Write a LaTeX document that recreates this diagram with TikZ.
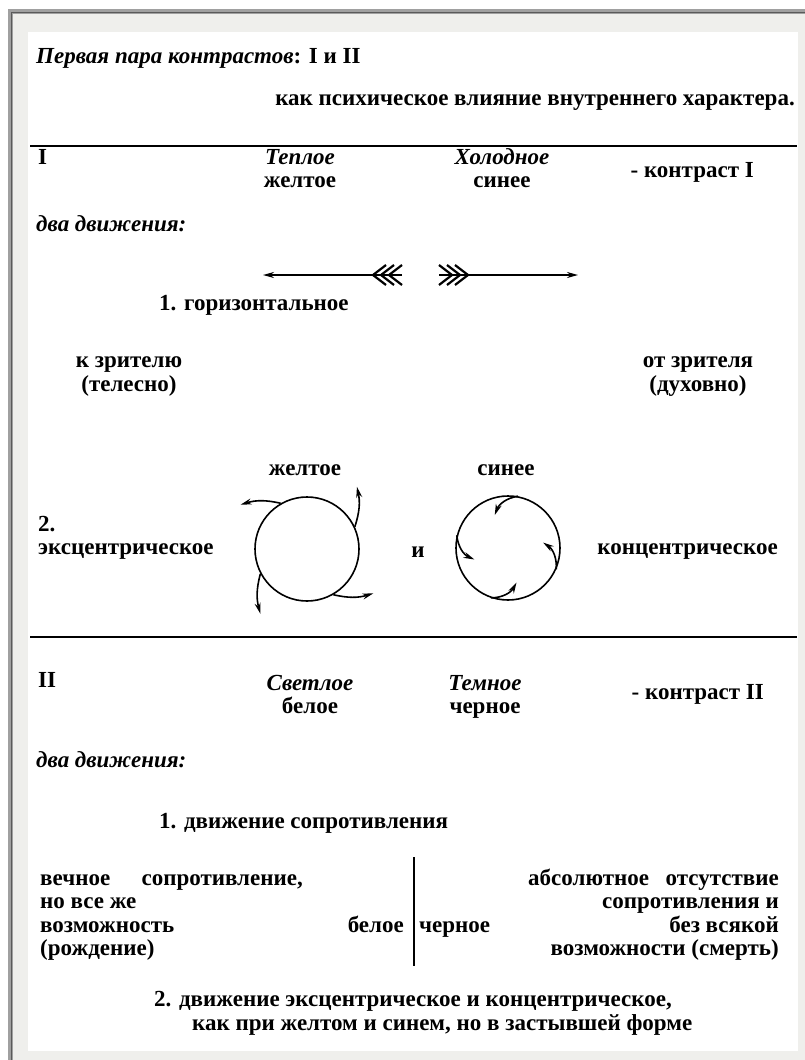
\documentclass[tikz,border=0pt]{standalone}
\usepackage{fontspec}
\setmainfont{Liberation Serif}
\usetikzlibrary{arrows.meta, positioning}
\definecolor{bandgray}{HTML}{EFEFEC}
\definecolor{framegray}{HTML}{A0A0A0}
\definecolor{framedark}{HTML}{5A5A5A}
\newcommand{\txtfont}{\fontsize{23}{26}\selectfont\bfseries}

\begin{document}
\begin{tikzpicture}
	[x=1pt, y=1pt, font=\txtfont,
	 txt/.style={inner sep=0pt, anchor=base west},
	 txtc/.style={inner sep=0pt, anchor=base},
	 txtr/.style={inner sep=0pt, anchor=base east},
	 ital/.style={font=\txtfont\itshape},
	 rule/.style={line width=1.8pt},
	 fletch/.style={line width=2.2pt},
	 flow/.style={line width=1.6pt, -{Stealth[length=11pt, width=6pt]}},
	 ring/.style={circle, draw, line width=1.6pt, minimum size=104pt, inner sep=0pt}]
	\useasboundingbox (0,0) rectangle (805,-1060);
	\fill[white] (0,0) rectangle (805,-1060);
	\fill[bandgray] (8,-9) rectangle (805,-1060);
	\fill[white] (28,-32) rectangle (798,-1051);
	\draw[framegray, line width=5pt] (10.5,-1060) -- (10.5,-11.5) -- (805,-11.5);
	\draw[framedark, line width=1.6pt] (11.5,-1060) -- (11.5,-12.5) -- (805,-12.5);

	% contrast I
	\node[txt, ital] (title) at (36,-63) {Первая пара контрастов\textup{: I и II}};
	\node[txtr] (psych) at (795,-105) {как психическое влияние внутреннего характера.};
	\draw[rule] (30,-146) -- (797,-146);
	\node[txt] (one) at (38,-164) {I};
	\node[txtc, ital] (warm) at (300,-164) {Теплое};
	\node[txtc] (yellow) at (300,-187) {желтое};
	\node[txtc, ital] (cold) at (502,-164) {Холодное};
	\node[txtc] (blue) at (502,-187) {синее};
	\node[txtr] (con1) at (754,-177) {- контраст I};
	\node[txt, ital] (moves1) at (36,-231) {два движения:};

	\coordinate (ltip) at (263,-275);
	\coordinate (ltail) at (402,-275);
	\coordinate (rtail) at (439,-275);
	\coordinate (rtip) at (578,-275);
	\draw[flow] (ltail) -- (ltip);
	\draw[flow] (rtail) -- (rtip);
	\foreach \dx in {0,8,16}
		\draw[fletch] ([shift={(\dx-16,10)}]ltail) -- ([shift={(\dx-29,0)}]ltail) -- ([shift={(\dx-16,-10)}]ltail);
	\foreach \dx in {0,8,16}
		\draw[fletch] ([shift={(16-\dx,10)}]rtail) -- ([shift={(29-\dx,0)}]rtail) -- ([shift={(16-\dx,-10)}]rtail);

	\node[txt] (horiz) at (159,-310) {1. горизонтальное};
	\node[txtc] (toview) at (129,-367) {к зрителю};
	\node[txtc] (body) at (129,-391) {(телесно)};
	\node[txtc] (fromview) at (698,-367) {от зрителя};
	\node[txtc] (spirit) at (698,-391) {(духовно)};

	\node[txtc] (yellow2) at (305,-475) {желтое};
	\node[txtc] (blue2) at (506,-475) {синее};
	\node[txt] (two) at (38,-531) {2.};
	\node[txt] (ecc) at (38,-554) {эксцентрическое};
	\node[txtc] (and) at (418,-557) {и};
	\node[txtr] (conc) at (778,-554) {концентрическое};

	\node[ring] (ycirc) at (307,-549) {};
	\node[ring] (bcirc) at (508,-548) {};
	\foreach \a [count=\i] in {25,120,208,300}
		\draw[flow] (ycirc.\a) to[out=\a+47, in=\a+257] ++(\a+62:40) coordinate (yend\i);
	\foreach \a [count=\i] in {79,166,251,336}
		\draw[flow] (bcirc.\a) to[out=\a+110, in=\a+350] ++(\a+140:30) coordinate (bend\i);

	% contrast II
	\draw[rule] (30,-637) -- (797,-637);
	\node[txt] (two2) at (38,-687) {II};
	\node[txtc, ital] (light) at (310,-690) {Светлое};
	\node[txtc] (white) at (310,-713) {белое};
	\node[txtc, ital] (dark) at (485,-690) {Темное};
	\node[txtc] (black) at (485,-713) {черное};
	\node[txtr] (con2) at (764,-699) {- контраст II};
	\node[txt, ital] (moves2) at (36,-767) {два движения:};
	\node[txt] (resist) at (159,-828) {1. движение сопротивления};

	\draw[line width=1.4pt] (414,-857) -- (414,-966);
	\node[txt] (l1a) at (40,-885) {вечное};
	\node[txtr] (l1b) at (303,-885) {сопротивление,};
	\node[txt] (l2) at (40,-908) {но все же};
	\node[txt] (l3) at (40,-932) {возможность};
	\node[txt] (l4) at (40,-955) {(рождение)};
	\node[txtr] (whiteb) at (404,-932) {белое};
	\node[txt] (blackb) at (419,-932) {черное};
	\node[txt] (r1a) at (528,-885) {абсолютное};
	\node[txtr] (r1b) at (779,-885) {отсутствие};
	\node[txtr] (r2) at (779,-908) {сопротивления и};
	\node[txtr] (r3) at (779,-932) {без всякой};
	\node[txtr] (r4) at (779,-955) {возможности (смерть)};

	\node[txt] (final1) at (154,-1006) {2. движение эксцентрическое и концентрическое,};
	\node[txt] (final2) at (192,-1030) {как при желтом и синем, но в застывшей форме};
\end{tikzpicture}
\end{document}
